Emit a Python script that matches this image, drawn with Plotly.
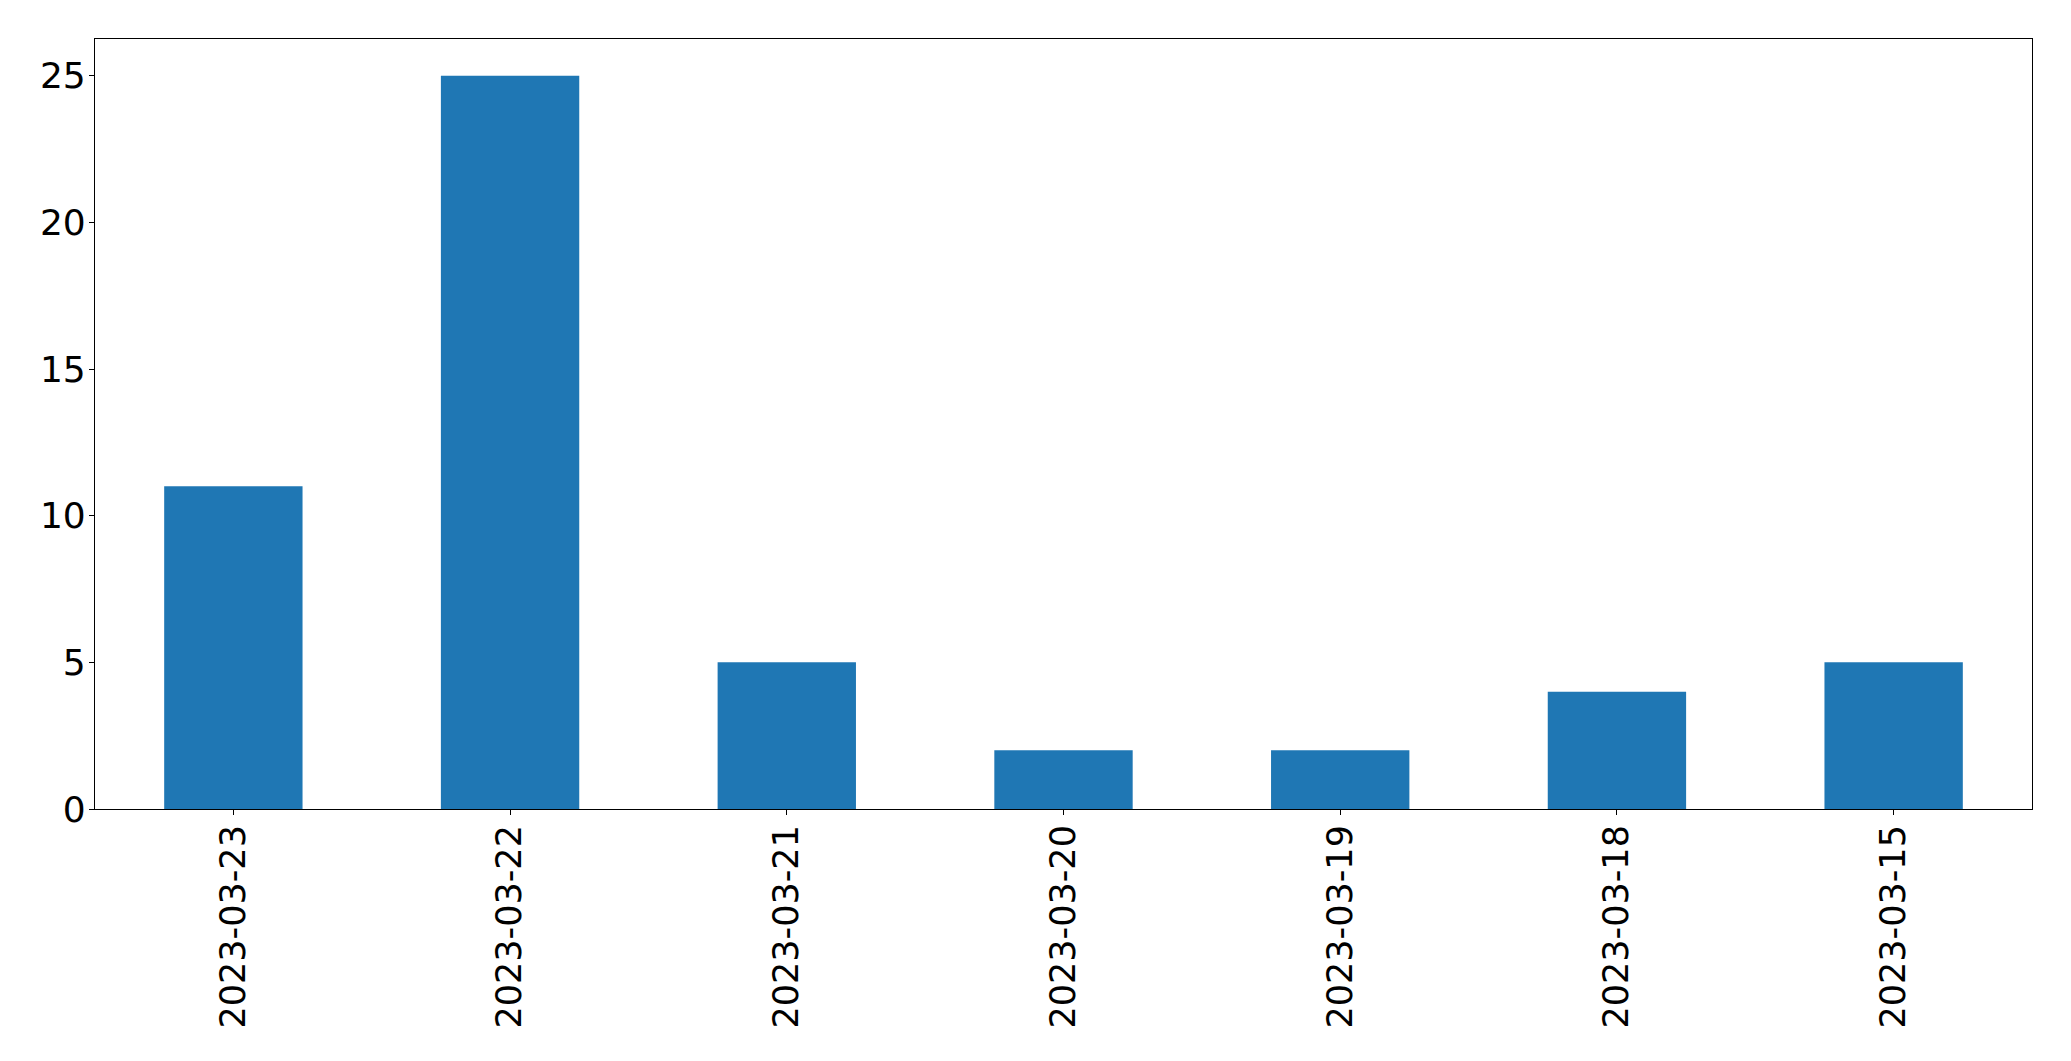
import plotly.graph_objects as go

categories = ["2023-03-23", "2023-03-22", "2023-03-21", "2023-03-20", "2023-03-19", "2023-03-18", "2023-03-15"]
values = [11, 25, 5, 2, 2, 4, 5]
y_ticks = [0, 5, 10, 15, 20, 25]

# page body has an 8px margin, so the figure is offset by 8px
W, H = 2055, 1045
fig = go.Figure(go.Bar(x=categories, y=values, marker=dict(color="#1f77b4", line=dict(width=0)), width=0.5))

font = dict(family="DejaVu Sans", size=35, color="black")
yfont = dict(family="DejaVu Sans", size=36, color="black")
fig.update_layout(
    width=W, height=H,
    margin=dict(l=87, r=31, t=31, b=244, pad=0, autoexpand=False),
    paper_bgcolor="white", plot_bgcolor="white",
    showlegend=False,
    font=font,
)
fig.update_xaxes(
    type="category", range=[-0.5, len(categories) - 0.5], automargin=False,
    showline=True, linecolor="black", linewidth=1.2, mirror=True,
    ticks="outside", ticklen=5, tickwidth=1.2, tickcolor="black",
    tickangle=-90, tickfont=font, showgrid=False, ticklabelstandoff=-4,
)
fig.update_yaxes(
    range=[0, 26.25], tickvals=y_ticks, ticktext=[str(v) for v in y_ticks], automargin=False,
    showline=True, linecolor="black", linewidth=1.2, mirror=True,
    ticks="outside", ticklen=5, tickwidth=1.2, tickcolor="black",
    tickfont=yfont, showgrid=False, zeroline=False, ticklabelstandoff=-4,
)
fig.write_html("out.html")
